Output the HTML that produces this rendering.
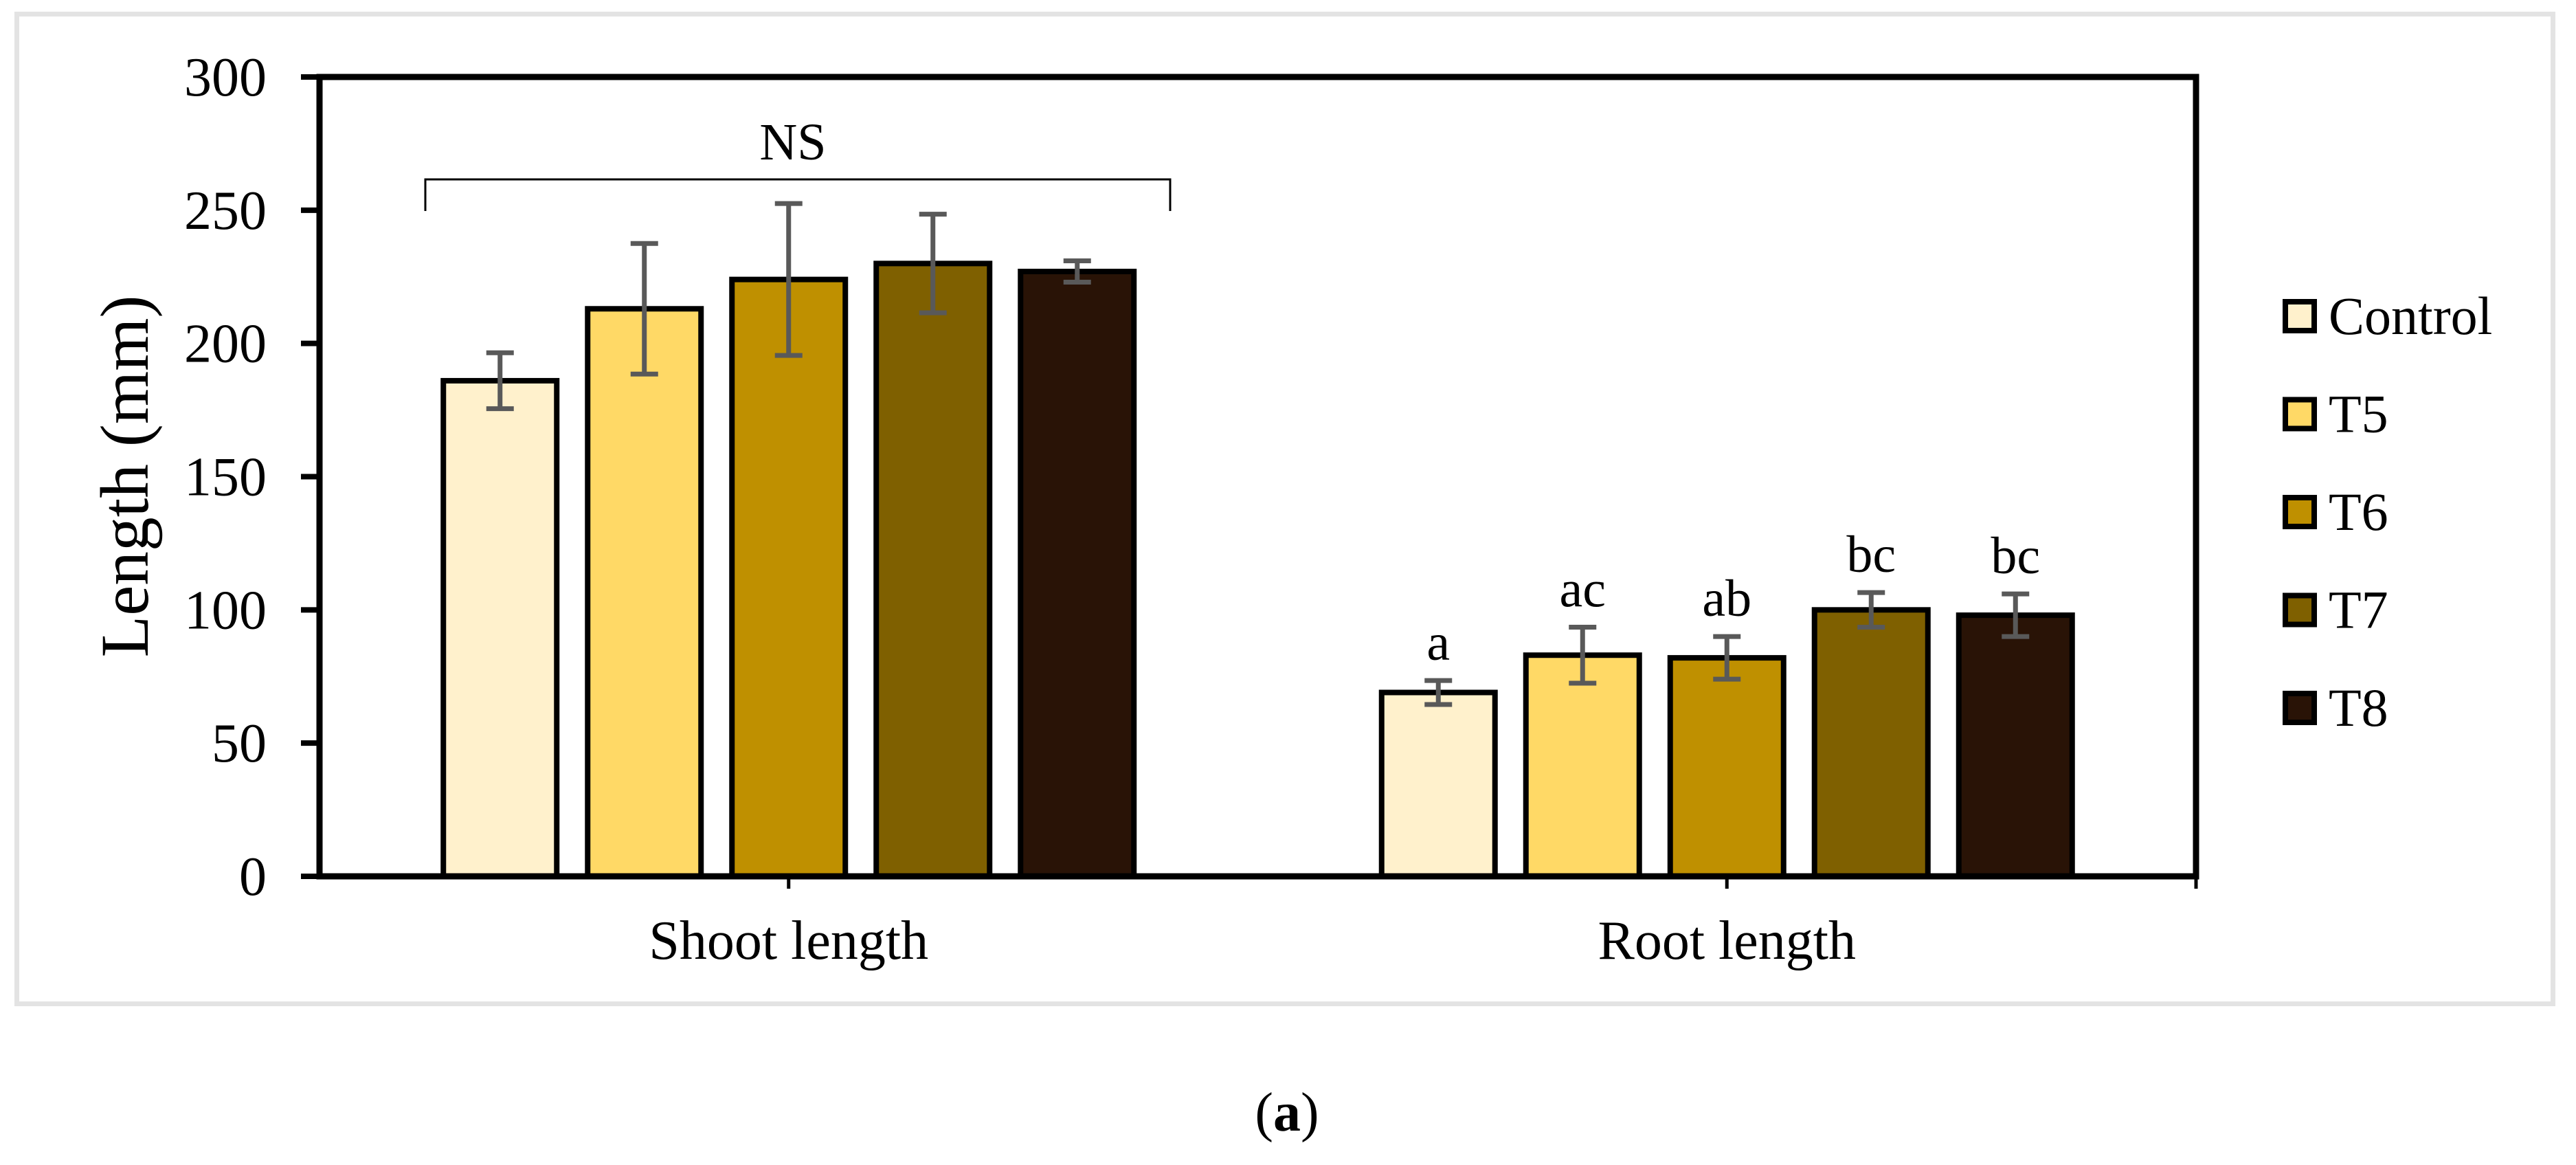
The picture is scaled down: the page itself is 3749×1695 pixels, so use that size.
<!DOCTYPE html>
<html><head><meta charset="utf-8"><style>
html,body{margin:0;padding:0;background:#fff;}
svg{display:block;font-family:"Liberation Serif",serif;}
</style></head><body>
<svg id="chart" width="3749" height="1695" viewBox="0 0 3749 1695" xmlns="http://www.w3.org/2000/svg">
<rect x="24.5" y="20.5" width="3691" height="1440" fill="#fff" stroke="#e3e3e3" stroke-width="7"/>
<g id="plot"></g>
<text x="1873" y="1645" font-size="80" text-anchor="middle">(<tspan font-weight="bold">a</tspan>)</text>
</svg>
<script>
const categories = ["Shoot length", "Root length"];
const seriesNames = ["Control", "T5", "T6", "T7", "T8"];
const seriesColors = ["#fff1cc", "#ffd966", "#bf9000", "#7f6000", "#291306"];
const meanControl = [186, 69];
const meanT5 = [213, 83];
const meanT6 = [224, 82];
const meanT7 = [230, 100];
const meanT8 = [227, 98];
const errControl = [10.5, 4.5];
const errT5 = [24.5, 10.5];
const errT6 = [28.5, 8];
const errT7 = [18.5, 6.5];
const errT8 = [4, 8];
const rootLetters = ["a", "ac", "ab", "bc", "bc"];
const yTicks = [0, 50, 100, 150, 200, 250, 300];

const means = [meanControl, meanT5, meanT6, meanT7, meanT8];
const errs = [errControl, errT5, errT6, errT7, errT8];
const NS = "http://www.w3.org/2000/svg";
const plot = document.getElementById('plot');
const X0 = 465, X1 = 3196, Y0 = 1275, YT = 112, YMAX = 300;
const y = v => Y0 - (v / YMAX) * (Y0 - YT);
const catW = (X1 - X0) / categories.length;
const cx = i => X0 + catW * (i + 0.5);
const pitch = 210, bw = 165;
const bx = (ci, si) => cx(ci) + (si - (seriesNames.length - 1) / 2) * pitch;
function mk(tag, attrs) { const e = document.createElementNS(NS, tag); for (const k in attrs) e.setAttribute(k, attrs[k]); plot.appendChild(e); return e; }

// y ticks
yTicks.forEach(t => {
  const l = mk('line', {x1: 438, x2: X0, y1: y(t), y2: y(t), stroke: '#000', 'stroke-width': 8});
  
  
  const tx = mk('text', {x: 388, y: y(t) + 27, 'font-size': 80, 'text-anchor': 'end'});
  tx.textContent = t;
  
  
});
// bars
categories.forEach((c, ci) => {
  seriesNames.forEach((s, si) => {
    const v = means[si][ci], e = errs[si][ci], x = bx(ci, si);
    const r = mk('rect', {x: x - bw / 2, y: y(v), width: bw, height: Y0 - y(v), fill: seriesColors[si], stroke: '#000', 'stroke-width': 8});
    
    
    const g = mk('path', {d: `M${x},${y(v + e)}V${y(v - e)}M${x - 20},${y(v + e)}H${x + 20}M${x - 20},${y(v - e)}H${x + 20}`, stroke: '#595959', 'stroke-width': 7, fill: 'none'});
    
    
    if (ci === 1) {
      const lt = mk('text', {x: x, y: y(v + e) - 30, 'font-size': 76, 'text-anchor': 'middle'});
      lt.textContent = rootLetters[si];
      
      
    }
  });
  const ct = mk('text', {x: cx(ci), y: 1395, 'font-size': 80, 'text-anchor': 'middle'});
  ct.textContent = c;
  
  
  const tk = mk('line', {x1: cx(ci), x2: cx(ci), y1: Y0, y2: 1293, stroke: '#000', 'stroke-width': 5});
  
  
});
// axes box
const box = mk('path', {d: `M${X0},${YT}H${X1}V${Y0}H${X0}Z`, stroke: '#000', 'stroke-width': 9, fill: 'none'});


const rt = mk('line', {x1: X1, x2: X1, y1: Y0, y2: 1293, stroke: '#000', 'stroke-width': 5});


// NS bracket
const br = mk('path', {d: `M619,307V261H1703V307`, stroke: '#000', 'stroke-width': 3, fill: 'none'});


const nst = mk('text', {x: 1154, y: 232, 'font-size': 76, 'text-anchor': 'middle'});
nst.textContent = 'NS';


// y title
const yt = mk('text', {x: 0, y: 0, 'font-size': 100, 'text-anchor': 'middle', transform: 'translate(215,693) rotate(-90)', textLength: 527, lengthAdjust: 'spacingAndGlyphs'});
yt.textContent = 'Length (mm)';


// legend
seriesNames.forEach((s, si) => {
  const ly = 460 + si * 142.5;
  const sw = mk('rect', {x: 3326, y: ly - 21, width: 42, height: 42, fill: seriesColors[si], stroke: '#000', 'stroke-width': 8});
  
  
  const lt = mk('text', {x: 3389, y: ly + 26, 'font-size': 78});
  lt.textContent = s;
  
  
});
</script>
</body></html>
